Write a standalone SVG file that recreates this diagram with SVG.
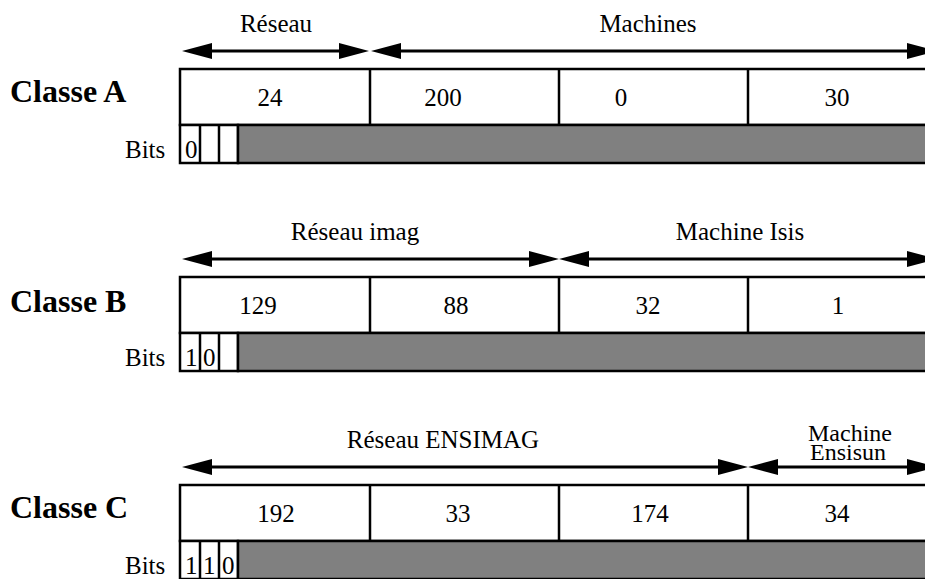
<svg xmlns="http://www.w3.org/2000/svg" width="925" height="579" viewBox="0 0 925 579" font-family="'Liberation Serif', 'DejaVu Serif', serif">
<style>
text{font-family:'Liberation Serif','DejaVu Serif',serif}
.t{font-size:25px;fill:#000}
.s{font-size:24px}
.c{text-anchor:middle}
.h{font-size:32px;font-weight:bold;fill:#000}
.box{fill:#fff;stroke:#000;stroke-width:2.5}
.ln{stroke:#000;stroke-width:2.5;fill:none}
.gray{fill:#808080;stroke:#000;stroke-width:2.5}
.arr{stroke:#000;stroke-width:3;fill:none;marker-start:url(#ah);marker-end:url(#ah)}
</style>
<defs>
<marker id="ah" viewBox="0 0 30 16" refX="15" refY="8" markerWidth="30" markerHeight="16" markerUnits="userSpaceOnUse" orient="auto-start-reverse">
<path d="M0,0 L30,8 L0,16 z" fill="#000"/>
</marker>
</defs>
<rect width="925" height="579" fill="#fff"/>

<g id="classeA">
<text class="h" x="10" y="102">Classe A</text>
<text class="t" x="125" y="158">Bits</text>
<rect class="box" x="180" y="69" width="757" height="56"/>
<line class="ln" x1="370" y1="69" x2="370" y2="125"/>
<line class="ln" x1="559" y1="69" x2="559" y2="125"/>
<line class="ln" x1="748" y1="69" x2="748" y2="125"/>
<rect class="box" x="180" y="125" width="58" height="38"/>
<rect class="gray" x="238" y="125" width="699" height="38"/>
<line class="ln" x1="200" y1="125" x2="200" y2="163"/>
<line class="ln" x1="219" y1="125" x2="219" y2="163"/>
<text class="t" x="185" y="158">0</text>
<text class="t c" x="270" y="106">24</text>
<text class="t c" x="443" y="106">200</text>
<text class="t c" x="621" y="106">0</text>
<text class="t c" x="837" y="106">30</text>
<text class="t c" x="276" y="32">Réseau</text>
<text class="t c" x="648" y="32">Machines</text>
</g>

<g id="classeB">
<text class="h" x="10" y="312">Classe B</text>
<text class="t" x="125" y="366">Bits</text>
<rect class="box" x="180" y="277" width="757" height="56"/>
<line class="ln" x1="370" y1="277" x2="370" y2="333"/>
<line class="ln" x1="559" y1="277" x2="559" y2="333"/>
<line class="ln" x1="748" y1="277" x2="748" y2="333"/>
<rect class="box" x="180" y="333" width="58" height="38"/>
<rect class="gray" x="238" y="333" width="699" height="38"/>
<line class="ln" x1="200" y1="333" x2="200" y2="371"/>
<line class="ln" x1="219" y1="333" x2="219" y2="371"/>
<text class="t" x="185" y="366">1</text>
<text class="t" x="203" y="366">0</text>
<text class="t c" x="258" y="314">129</text>
<text class="t c" x="456" y="314">88</text>
<text class="t c" x="648" y="314">32</text>
<text class="t c" x="838" y="314">1</text>
<text class="t c" x="355" y="240">Réseau imag</text>
<text class="t c" x="740" y="240">Machine Isis</text>
</g>

<g id="classeC">
<text class="h" x="10" y="518">Classe C</text>
<text class="t" x="125" y="574">Bits</text>
<rect class="box" x="180" y="485" width="757" height="56"/>
<line class="ln" x1="370" y1="485" x2="370" y2="541"/>
<line class="ln" x1="559" y1="485" x2="559" y2="541"/>
<line class="ln" x1="748" y1="485" x2="748" y2="541"/>
<rect class="box" x="180" y="541" width="58" height="38"/>
<rect class="gray" x="238" y="541" width="699" height="38"/>
<line class="ln" x1="200" y1="541" x2="200" y2="579"/>
<line class="ln" x1="219" y1="541" x2="219" y2="579"/>
<text class="t" x="185" y="574">1</text>
<text class="t" x="203" y="574">1</text>
<text class="t" x="222" y="574">0</text>
<text class="t c" x="276" y="522">192</text>
<text class="t c" x="458" y="522">33</text>
<text class="t c" x="650" y="522">174</text>
<text class="t c" x="837" y="522">34</text>
<text class="t c" x="443" y="448">Réseau ENSIMAG</text>
<text class="t s c" x="850" y="441">Machine</text>
<text class="t s c" x="848" y="460">Ensisun</text>
</g>

<g id="connectors">
<line class="arr" x1="197" y1="51" x2="354" y2="51"/>
<line class="arr" x1="386" y1="51" x2="922" y2="51"/>
<line class="arr" x1="197" y1="259" x2="544" y2="259"/>
<line class="arr" x1="574" y1="259" x2="922" y2="259"/>
<line class="arr" x1="197" y1="467" x2="733" y2="467"/>
<line class="arr" x1="763" y1="467" x2="922" y2="467"/>
</g>
</svg>
